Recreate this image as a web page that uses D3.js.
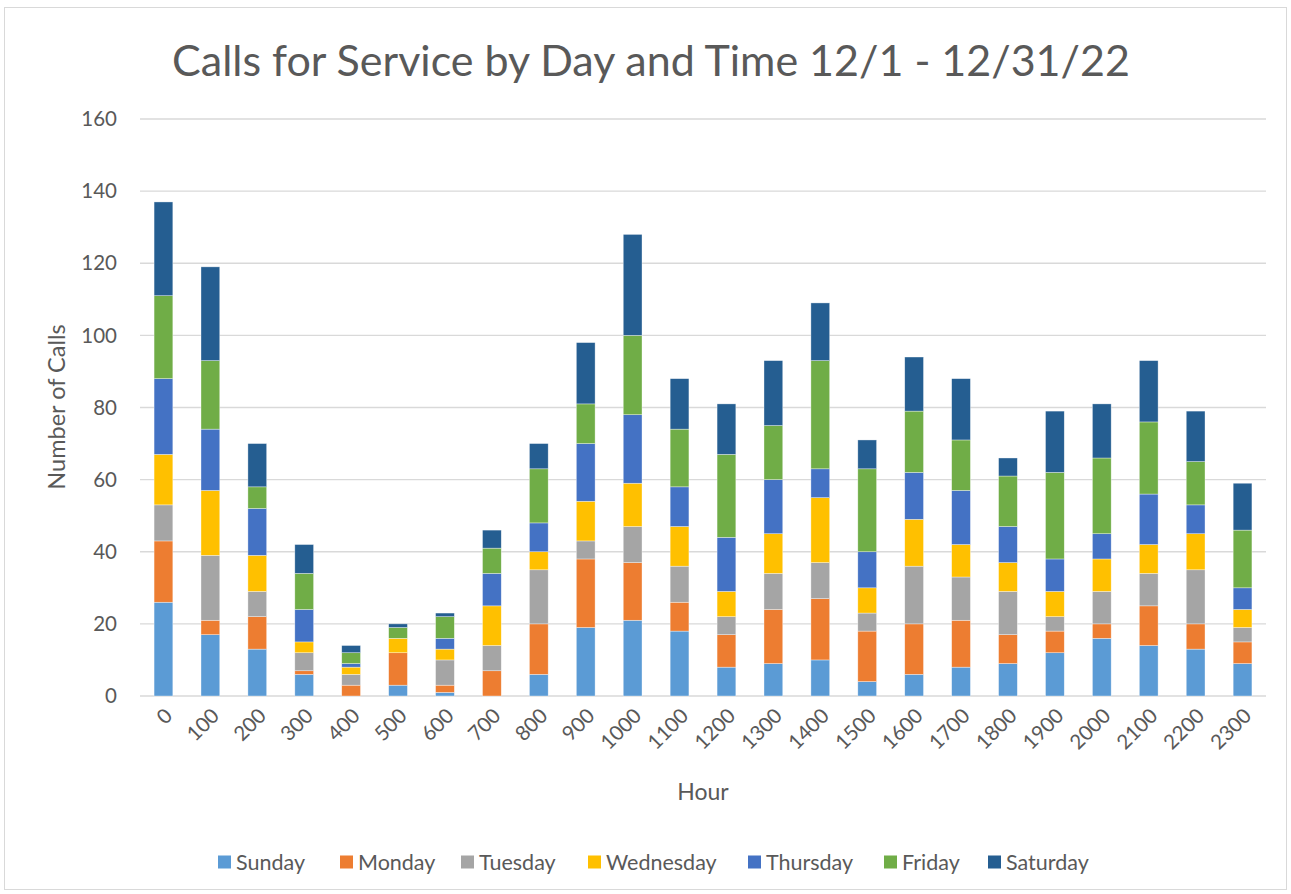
<!DOCTYPE html>
<html>
<head>
<meta charset="utf-8">
<script src="https://cdn.jsdelivr.net/npm/d3@7"></script>
<style>
  body { margin: 0; background: #fff; }
  svg { font-family: Lato, "Open Sans", sans-serif; }
</style>
</head>
<body>
<svg id="chart" width="1291" height="894"></svg>
<script>
// data
const hours = ["0","100","200","300","400","500","600","700","800","900","1000","1100",
  "1200","1300","1400","1500","1600","1700","1800","1900","2000","2100","2200","2300"];
const days = ["Sunday","Monday","Tuesday","Wednesday","Thursday","Friday","Saturday"];
const sunday    = [26,17,13,6,0,3,1,0,6,19,21,18,8,9,10,4,6,8,9,12,16,14,13,9];
const monday    = [17,4,9,1,3,9,2,7,14,19,16,8,9,15,17,14,14,13,8,6,4,11,7,6];
const tuesday   = [10,18,7,5,3,0,7,7,15,5,10,10,5,10,10,5,16,12,12,4,9,9,15,4];
const wednesday = [14,18,10,3,2,4,3,11,5,11,12,11,7,11,18,7,13,9,8,7,9,8,10,5];
const thursday  = [21,17,13,9,1,0,3,9,8,16,19,11,15,15,8,10,13,15,10,9,7,14,8,6];
const friday    = [23,19,6,10,3,3,6,7,15,11,22,16,23,15,30,23,17,14,14,24,21,20,12,16];
const saturday  = [26,26,12,8,2,1,1,5,7,17,28,14,14,18,16,8,15,17,5,17,15,17,14,13];
const yTicks = [0,20,40,60,80,100,120,140,160];
const colors = ["#5B9BD5","#ED7D31","#A5A5A5","#FFC000","#4472C4","#70AD47","#255E91"];

const series = [sunday, monday, tuesday, wednesday, thursday, friday, saturday];
const rows = hours.map((h, i) => {
  const r = { hour: h };
  days.forEach((d, k) => r[d] = series[k][i]);
  return r;
});

const dims = { width: 1291, height: 894, left: 140, right: 1266, top: 119, bottom: 696 };
const svg = d3.select("#chart");

// outer border
svg.append("rect").attr("x", 4.5).attr("y", 7.5).attr("width", 1282).attr("height", 882)
  .attr("fill", "#fff").attr("stroke", "#d9d9d9").attr("stroke-width", 1);

const x = d3.scaleBand().domain(hours).range([dims.left, dims.right]).paddingInner(0.6).paddingOuter(0.3);
const y = d3.scaleLinear().domain([0, 160]).range([dims.bottom, dims.top]);

// gridlines
svg.append("g").selectAll("line").data(yTicks).join("line")
  .attr("x1", dims.left).attr("x2", dims.right)
  .attr("y1", d => y(d)).attr("y2", d => y(d))
  .attr("stroke", "#d9d9d9").attr("stroke-width", 1.3);

// y tick labels
svg.append("g").selectAll("text").data(yTicks).join("text")
  .attr("x", 117).attr("y", d => y(d)).attr("dy", "0.35em")
  .attr("text-anchor", "end").attr("fill", "#595959").attr("font-size", 20.5)
  .text(d => d);

// stacked bars
const stack = d3.stack().keys(days)(rows);
svg.append("g").selectAll("g").data(stack).join("g")
  .attr("fill", (d, i) => colors[i])
  .selectAll("rect").data(d => d).join("rect")
  .attr("x", d => x(d.data.hour))
  .attr("width", x.bandwidth())
  .attr("y", d => y(d[1]))
  .attr("height", d => y(d[0]) - y(d[1]))
  .attr("stroke", "#fff").attr("stroke-width", 0.6).attr("stroke-opacity", 0.6);

// x tick labels
svg.append("g").selectAll("text").data(hours).join("text")
  .attr("transform", d => `translate(${x(d) + x.bandwidth() / 2 + 5},${712}) rotate(-45)`)
  .attr("text-anchor", "end").attr("dy", "0.35em")
  .attr("fill", "#595959").attr("font-size", 20.5)
  .text(d => d);

// title
svg.append("text").attr("x", 651).attr("y", 76).attr("text-anchor", "middle")
  .attr("fill", "#595959").attr("font-size", 43).text("Calls for Service by Day and Time 12/1 - 12/31/22");

// axis titles
svg.append("text").attr("transform", `translate(65,407) rotate(-90)`).attr("text-anchor", "middle")
  .attr("fill", "#595959").attr("font-size", 23.5).text("Number of Calls");
svg.append("text").attr("x", 703).attr("y", 800).attr("text-anchor", "middle")
  .attr("fill", "#595959").attr("font-size", 23).text("Hour");

// legend
const legendX = [218, 340, 461, 588, 748, 884, 988];
const legend = svg.append("g").selectAll("g").data(days).join("g")
  .attr("transform", (d, i) => `translate(${legendX[i]},862)`);
legend.append("rect").attr("x", 0).attr("y", -6.5).attr("width", 13).attr("height", 13)
  .attr("fill", (d, i) => colors[i]);
legend.append("text").attr("x", 18).attr("dy", "0.35em").attr("fill", "#595959")
  .attr("font-size", 21.5).text(d => d);
</script>
</body>
</html>
